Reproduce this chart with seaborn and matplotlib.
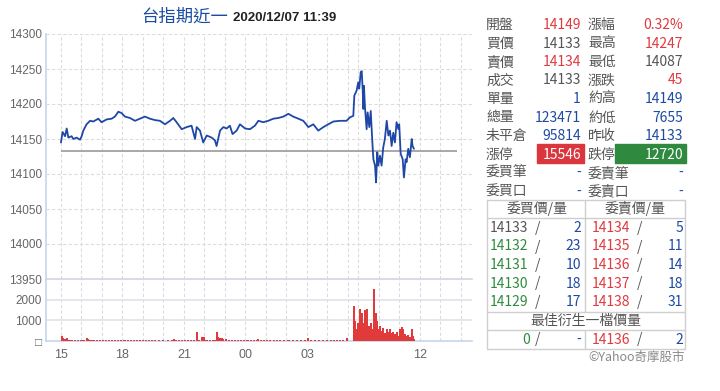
import matplotlib
matplotlib.use("Agg")
import matplotlib.pyplot as plt
import seaborn as sns
import pandas as pd
from matplotlib.patches import Rectangle
from matplotlib.lines import Line2D

# ---------------- data ----------------
title_name = "台指期近一"
title_time = "2020/12/07 11:39"

# trading-session hours since 15:00 (night 15:00-05:00 = 0..14, day session from 08:30 = 14..)
price_hours = [0.00, 0.08, 0.20, 0.28, 0.36, 0.52, 0.60, 0.76, 0.93, 1.01, 1.09, 1.25, 1.42, 1.58,
               1.82, 1.98, 2.23, 2.47, 2.63, 2.80, 2.96, 3.12, 3.37, 3.61, 3.85, 4.10, 4.34, 4.59,
               4.83, 5.07, 5.32, 5.48, 5.64, 5.89, 6.13, 6.37, 6.54, 6.62, 6.78, 6.94, 7.11, 7.35,
               7.51, 7.59, 7.76, 7.92, 8.08, 8.24, 8.37, 8.57, 8.73, 8.98, 9.22, 9.46, 9.63, 9.87,
               10.11, 10.36, 10.60, 10.85, 11.09, 11.33, 11.58, 11.82, 12.07, 12.31, 12.55, 12.80,
               13.04, 13.29, 13.61, 13.93, 14.10, 14.26, 14.31, 14.42, 14.50, 14.55, 14.62, 14.67,
               14.72, 14.75, 14.78, 14.83, 14.91, 14.96, 15.04, 15.11, 15.19, 15.24, 15.32, 15.37,
               15.43, 15.48, 15.56, 15.64, 15.72, 15.80, 15.89, 15.97, 16.05, 16.13, 16.21, 16.29,
               16.37, 16.46, 16.50, 16.57, 16.67, 16.73, 16.81, 16.86, 16.94, 17.02, 17.11, 17.15,
               17.22]
price_values = [14145, 14160, 14154, 14165, 14152, 14154, 14150, 14152, 14149, 14154, 14162, 14171,
                14176, 14175, 14179, 14174, 14178, 14179, 14182, 14189, 14187, 14182, 14180, 14176,
                14179, 14182, 14179, 14177, 14176, 14171, 14176, 14180, 14174, 14164, 14167, 14169,
                14150, 14167, 14162, 14145, 14155, 14152, 14148, 14140, 14162, 14167, 14165, 14169,
                14157, 14162, 14171, 14165, 14164, 14169, 14176, 14174, 14176, 14179, 14180, 14182,
                14186, 14182, 14179, 14176, 14167, 14171, 14162, 14167, 14171, 14175, 14176, 14176,
                14181, 14183, 14212, 14219, 14231, 14222, 14245, 14247, 14219, 14193, 14226, 14195,
                14164, 14188, 14167, 14190, 14145, 14121, 14112, 14088, 14131, 14112, 14126, 14112,
                14138, 14150, 14176, 14155, 14162, 14140, 14159, 14145, 14174, 14164, 14171, 14129,
                14121, 14095, 14121, 14117, 14136, 14124, 14150, 14140, 14136]
prev_close = 14133
ref_line_end = 19.3

night_vol_hours = [0.03, 0.11, 0.20, 0.28, 0.36, 0.44, 0.55, 0.70, 0.85, 1.00, 1.10, 1.25, 1.33, 1.42,
                   1.50, 1.60, 1.75, 1.90, 2.05, 2.20, 2.35, 2.50, 2.65, 2.80, 2.95, 3.10, 3.25, 3.40,
                   3.55, 3.70, 3.85, 4.00, 4.15, 4.30, 4.45, 4.60, 4.80, 5.00, 5.20, 5.40, 5.50, 5.60,
                   5.75, 5.90, 6.05, 6.20, 6.35, 6.50, 6.62, 6.75, 6.86, 6.98, 7.10, 7.25, 7.40, 7.50,
                   7.59, 7.67, 7.76, 7.84, 7.92, 8.05, 8.20, 8.35, 8.50, 8.65, 8.80, 8.95, 9.10, 9.25,
                   9.40, 9.55, 9.63, 9.75, 9.90, 10.05, 10.20, 10.40, 10.55, 10.70, 10.90, 11.10,
                   11.30, 11.50, 11.70, 11.90, 12.06, 12.20, 12.40, 12.60, 12.80, 13.00, 13.15, 13.30,
                   13.45, 13.60, 13.75, 13.94]
night_vol = [250, 160, 100, 130, 70, 50, 30, 30, 35, 40, 50, 130, 100, 70, 60, 50, 40, 45, 40, 35,
             40, 45, 50, 60, 45, 50, 40, 35, 30, 30, 35, 30, 25, 30, 25, 30, 25, 30, 25, 30, 80, 40,
             35, 40, 50, 60, 50, 70, 420, 60, 210, 210, 60, 50, 60, 70, 455, 170, 130, 130, 100, 80,
             70, 60, 60, 70, 60, 50, 50, 45, 40, 45, 110, 45, 35, 30, 30, 35, 45, 40, 30, 30, 35, 30,
             25, 30, 140, 30, 30, 40, 35, 35, 40, 45, 50, 45, 60, 140]

day_vol_hours = [14.29, 14.34, 14.42, 14.50, 14.59, 14.67, 14.75, 14.83, 14.88, 14.94, 15.02, 15.11,
                 15.19, 15.27, 15.35, 15.41, 15.48, 15.56, 15.64, 15.72, 15.80, 15.89, 15.97, 16.05,
                 16.13, 16.21, 16.29, 16.37, 16.46, 16.54, 16.62, 16.70, 16.78, 16.86, 16.94, 17.02,
                 17.11, 17.19, 17.24]
day_vol = [1700, 970, 560, 890, 1560, 1370, 890, 1500, 730, 1530, 730, 890, 560, 2500, 1370, 970,
           560, 730, 480, 645, 400, 560, 435, 560, 370, 435, 320, 435, 240, 560, 690, 560, 320, 240,
           270, 210, 560, 240, 80]

price_ticks = [13950, 14000, 14050, 14100, 14150, 14200, 14250, 14300]
vol_ticks = [0, 1000, 2000]
vol_tick_labels = ["□", "1000", "2000"]
time_tick_pos = [0, 3, 6, 9, 12, 17.5]
time_tick_labels = ["15", "18", "21", "00", "03", "12"]
grid_hours = [0, 1, 2, 3, 4, 5, 6, 7, 8, 9, 10, 11, 12, 13, 14, 14.5, 15.5, 16.5, 17.5, 18.5, 19.5]

# quote panel: (label, value, colour-key) pairs for left and right columns
quote_left = [("開盤", "14149", "red"), ("買價", "14133", "gray"), ("賣價", "14134", "red"),
              ("成交", "14133", "gray"), ("單量", "1", "blue"), ("總量", "123471", "blue"),
              ("未平倉", "95814", "blue"), ("漲停", "15546", "redbox"), ("委買筆", "-", "blue"),
              ("委買口", "-", "blue")]
quote_right = [("漲幅", "0.32%", "red"), ("最高", "14247", "red"), ("最低", "14087", "gray"),
               ("漲跌", "45", "red"), ("約高", "14149", "blue"), ("約低", "7655", "blue"),
               ("昨收", "14133", "blue"), ("跌停", "12720", "greenbox"), ("委賣筆", "-", "blue"),
               ("委賣口", "-", "blue")]
bid_prices = ["14133", "14132", "14131", "14130", "14129"]
bid_colors = ["gray", "green", "green", "green", "green"]
bid_qty = ["2", "23", "10", "18", "17"]
ask_prices = ["14134", "14135", "14136", "14137", "14138"]
ask_qty = ["5", "11", "14", "18", "31"]
best_bid = ("0", "-")
best_ask = ("14136", "2")

# ---------------- style ----------------
W, H = 720, 391
sns.set_style("white")
plt.rcParams["font.family"] = ["Noto Sans CJK TC", "DejaVu Sans"]

C = {"red": "#e0393e", "gray": "#555555", "blue": "#1d4aa3", "green": "#2e8b3e",
     "redbox": "#ffffff", "greenbox": "#ffffff"}
SPINE = "#c5d6ea"
GRID = "#dcdcdc"

fig = plt.figure(figsize=(W / 100, H / 100), dpi=100)


def fx(x):
    return x / W


def fy(y):
    return 1 - y / H


ax_p = fig.add_axes([fx(46), fy(279), (472 - 46) / W, (279 - 34) / H])
ax_v = fig.add_axes([fx(46), fy(341), (472 - 46) / W, (341 - 279) / H], sharex=ax_p)

xmin, xmax = -0.73, 20.05

# price panel
df_price = pd.DataFrame({"hours": price_hours, "price": price_values})
for h in grid_hours:
    ax_p.axvline(h, color=GRID, lw=0.8, ls=(0, (3, 2)), zorder=0)
    ax_v.axvline(h, color=GRID, lw=0.8, ls=(0, (3, 2)), zorder=0)
for t in price_ticks[1:]:
    ax_p.axhline(t, color=GRID, lw=0.8, ls=(0, (3, 2)), zorder=0)
ax_p.hlines(prev_close, 0, ref_line_end, color="#9a9a9a", lw=1.2, zorder=2)
sns.lineplot(data=df_price, x="hours", y="price", ax=ax_p, color="#1f48a6", lw=1.3,
             estimator=None, sort=False, zorder=3)
ax_p.set_xlim(xmin, xmax)
ax_p.set_ylim(13950, 14300)
ax_p.set_yticks(price_ticks)
ax_p.set_xlabel("")
ax_p.set_ylabel("")
ax_p.tick_params(axis="x", which="both", bottom=False, labelbottom=False)
ax_p.tick_params(axis="y", length=0, pad=3, labelsize=8.5, labelcolor="#666666")
for lab in ax_p.get_yticklabels():
    lab.set_family(["Liberation Sans", "DejaVu Sans"])
for s in ["top", "right"]:
    ax_p.spines[s].set_visible(False)
ax_p.spines["bottom"].set_visible(False)
ax_p.spines["left"].set_color(SPINE)
ax_p.spines["left"].set_linewidth(1.2)

# volume panel
ax_v.bar(night_vol_hours, night_vol, width=0.1, color="#e03a3a", linewidth=0, zorder=3)
ax_v.bar(day_vol_hours, day_vol, width=0.095, color="#e03a3a", linewidth=0, zorder=3)
for t in [1000, 2000]:
    ax_v.axhline(t, color="#dde2ea", lw=1.2, zorder=1)
ax_v.set_ylim(0, 3000)
ax_v.set_xlim(xmin, xmax)
ax_v.set_yticks(vol_ticks)
ax_v.set_yticklabels(vol_tick_labels)
ax_v.set_xticks(time_tick_pos)
ax_v.set_xticklabels(time_tick_labels)
ax_v.tick_params(axis="y", length=0, pad=3, labelsize=8.5, labelcolor="#666666")
ax_v.tick_params(axis="x", length=4, width=1, color=SPINE, pad=2, labelsize=9, labelcolor="#666666")
for lab in ax_v.get_yticklabels() + ax_v.get_xticklabels():
    lab.set_family(["Liberation Sans", "DejaVu Sans"])
ax_v.spines["right"].set_visible(False)
ax_v.spines["top"].set_color("#d0d6de")
ax_v.spines["top"].set_linewidth(1.2)
ax_v.spines["left"].set_color(SPINE)
ax_v.spines["left"].set_linewidth(1.2)
ax_v.spines["bottom"].set_color(SPINE)
ax_v.spines["bottom"].set_linewidth(1.2)

# title
fig.text(fx(228), fy(17), title_name, ha="right", va="center", fontsize=12.5, color="#1a4ca3")
fig.text(fx(233), fy(18), title_time, ha="left", va="center", fontsize=9.5, fontweight="bold",
         color="#222222", family=["Liberation Sans", "DejaVu Sans"])

# quote panel
FS = 10
row0, step = 25, 18.5
for i, ((l1, v1, c1), (l2, v2, c2)) in enumerate(zip(quote_left, quote_right)):
    y = row0 + i * step
    fig.text(fx(486), fy(y), l1, ha="left", va="center", fontsize=FS, color=C["gray"])
    fig.text(fx(588), fy(y), l2, ha="left", va="center", fontsize=FS, color=C["gray"])
    if c1 == "redbox":
        fig.patches.append(Rectangle((fx(537), fy(163.5)), (584 - 537) / W, 19.5 / H,
                                     transform=fig.transFigure, color="#d9363d", zorder=1))
    if c2 == "greenbox":
        fig.patches.append(Rectangle((fx(615), fy(163.5)), (686 - 615) / W, 19.5 / H,
                                     transform=fig.transFigure, color="#2f8a40", zorder=1))
    fig.text(fx(581), fy(y), v1, ha="right", va="center", fontsize=FS, color=C[c1], zorder=2)
    fig.text(fx(683), fy(y), v2, ha="right", va="center", fontsize=FS, color=C[c2], zorder=2)

# order book box
BOX = "#cfcfcf"


def hline(y, x0=487, x1=685):
    fig.add_artist(Line2D([fx(x0), fx(x1)], [fy(y), fy(y)], color=BOX, lw=1.0))


def vline(x, y0, y1):
    fig.add_artist(Line2D([fx(x), fx(x)], [fy(y0), fy(y1)], color=BOX, lw=1.0))


for yy in [200, 218, 312, 330, 349]:
    hline(yy)
vline(487, 200, 349)
vline(685, 200, 349)
vline(585, 200, 312)
vline(585, 330, 349)

fig.text(fx(537), fy(209), "委買價/量", ha="center", va="center", fontsize=FS, color=C["gray"])
fig.text(fx(635), fy(209), "委賣價/量", ha="center", va="center", fontsize=FS, color=C["gray"])
for i in range(5):
    y = 228 + i * 18.5
    fig.text(fx(490), fy(y), bid_prices[i], ha="left", va="center", fontsize=FS, color=C[bid_colors[i]])
    fig.text(fx(538), fy(y), "/", ha="center", va="center", fontsize=FS, color=C["gray"])
    fig.text(fx(581), fy(y), bid_qty[i], ha="right", va="center", fontsize=FS, color=C["blue"])
    fig.text(fx(592), fy(y), ask_prices[i], ha="left", va="center", fontsize=FS, color=C["red"])
    fig.text(fx(640), fy(y), "/", ha="center", va="center", fontsize=FS, color=C["gray"])
    fig.text(fx(683), fy(y), ask_qty[i], ha="right", va="center", fontsize=FS, color=C["blue"])

fig.text(fx(586), fy(321), "最佳衍生一檔價量", ha="center", va="center", fontsize=FS, color=C["gray"])
yb = 339.5
fig.text(fx(530), fy(yb), best_bid[0], ha="right", va="center", fontsize=FS, color=C["green"])
fig.text(fx(538), fy(yb), "/", ha="center", va="center", fontsize=FS, color=C["gray"])
fig.text(fx(581), fy(yb), best_bid[1], ha="right", va="center", fontsize=FS, color=C["blue"])
fig.text(fx(592), fy(yb), best_ask[0], ha="left", va="center", fontsize=FS, color=C["red"])
fig.text(fx(640), fy(yb), "/", ha="center", va="center", fontsize=FS, color=C["gray"])
fig.text(fx(683), fy(yb), best_ask[1], ha="right", va="center", fontsize=FS, color=C["blue"])

fig.text(fx(685), fy(357), "©Yahoo奇摩股市", ha="right", va="center", fontsize=9, color="#8a8a8a",
         family=["Noto Sans CJK TC", "DejaVu Sans"])

fig.savefig("out.png", dpi=100)
